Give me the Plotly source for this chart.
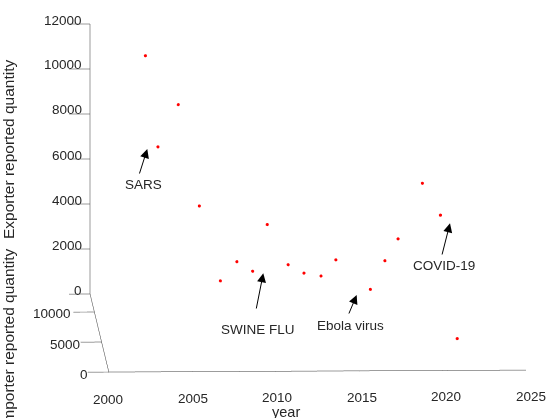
import plotly.graph_objects as go

# ---- data ----
years = [2003, 2004, 2005, 2006, 2007, 2008, 2009, 2010, 2011, 2012, 2013, 2014,
         2016, 2017, 2018, 2019, 2020, 2021]
importer = [9320, 12200, 9660, 6600, 3600, 3740, 4350, 5780, 2860, 3470, 3200, 4490,
            3670, 5170, 7600, 2300, 1360, 1290]
exporter = [11560, 6740, 9290, 5600, 3070, 3880, 3290, 4980, 3970, 3430, 3370, 3740,
            2640, 3510, 3830, 7710, 6540, 1070]

x_ticks = [2000, 2005, 2010, 2015, 2020, 2025]
y_ticks = [0, 5000, 10000]
z_ticks = [0, 2000, 4000, 6000, 8000, 10000, 12000]

events = ["SARS", "SWINE FLU", "Ebola virus", "COVID-19"]

W, H = 549, 418
FONT = "Liberation Sans, Arial, sans-serif"
INK = "#262626"
LINE = "#3a3a3a"

fig = go.Figure()
fig.add_trace(go.Scatter3d(
    x=years, y=importer, z=exporter, mode="markers",
    marker=dict(size=1.8, color="#ff0000", line=dict(width=0)),
    hoverinfo="skip", showlegend=False))

def ax3(rng, ticks, tl):
    return dict(range=rng, tickvals=ticks, showticklabels=False,
                showgrid=False, showbackground=False, zeroline=False,
                showline=True, linecolor=LINE, linewidth=1,
                ticks="outside", ticklen=tl, tickcolor=LINE, tickwidth=1,
                title=dict(text=""), showspikes=False)

eye_dir = (-0.0334, -0.989, 0.1405)
center = (-0.160, -0.0027, -0.0568)
k = 8.0
zoom = 2.658
fig.update_layout(
    width=W, height=H, margin=dict(l=0, r=0, t=0, b=0),
    paper_bgcolor="white", plot_bgcolor="white",
    font=dict(family=FONT, size=13, color=INK),
    scene=dict(
        domain=dict(x=[0, 1.0], y=[0, 1.0]),
        xaxis=ax3([2000, 2025], x_ticks, 21),
        yaxis=ax3([0, 13000], y_ticks, 2.7),
        zaxis=ax3([0, 12000], z_ticks, 1.0),
        aspectmode="manual",
        aspectratio=dict(x=0.751*zoom, y=1.0*zoom, z=0.491*zoom),
        camera=dict(projection=dict(type="orthographic"),
                    eye=dict(x=center[0]+eye_dir[0]*k, y=center[1]+eye_dir[1]*k,
                             z=center[2]+eye_dir[2]*k),
                    up=dict(x=0, y=0, z=1),
                    center=dict(x=center[0], y=center[1], z=center[2])),
    ),
)

def note(x, y, text, size=13.5, xanchor="center", showarrow=False, **kw):
    fig.add_annotation(xref="paper", yref="paper", x=x/W, y=1-y/H, text=text,
                       xanchor=xanchor, yanchor="middle", showarrow=showarrow,
                       font=dict(size=size, color=INK), **kw)

# tick labels, placed MATLAB-style (right aligned on the vertical axes)
for t in x_ticks:
    note(108 + (t - 2000) * 16.9, 399 - (t - 2000) * 0.12, str(t))
for v in y_ticks:
    note(90 - v / 10000 * 16.6, 374.5 - v / 10000 * 61, str(v), xanchor="right")
for v in z_ticks:
    note(83.5, 290 - v / 12000 * 270, str(v), xanchor="right")

# event arrows (tip, tail) and labels, in pixel positions of the figure
arrows = [((147.3, 149), (139, 175)), ((263.3, 273.3), (256, 310)),
          ((356.7, 295), (348.3, 315)), ((450, 223.3), (441.7, 256))]
labels = [(143.3, 185), (258.3, 329), (350, 325), (444.3, 265.7)]
for name, (tip, tail), (lx, ly) in zip(events, arrows, labels):
    note(tip[0], tip[1], "", showarrow=True, ax=tail[0]-tip[0], ay=tail[1]-tip[1],
         arrowhead=2, arrowsize=1.8, arrowwidth=1, arrowcolor="black")
    note(lx, ly, name)

note(8, 150, "Exporter reported quantity", size=15.5, textangle=-90)
note(8, 338, "Importer reported quantity", size=15.5, textangle=-90)
note(285.7, 412, "year", size=14.5)

fig.write_html("out.html", config={"displayModeBar": False},
               post_script="document.body.style.margin='0';"
                           "document.body.style.overflow='hidden';")
